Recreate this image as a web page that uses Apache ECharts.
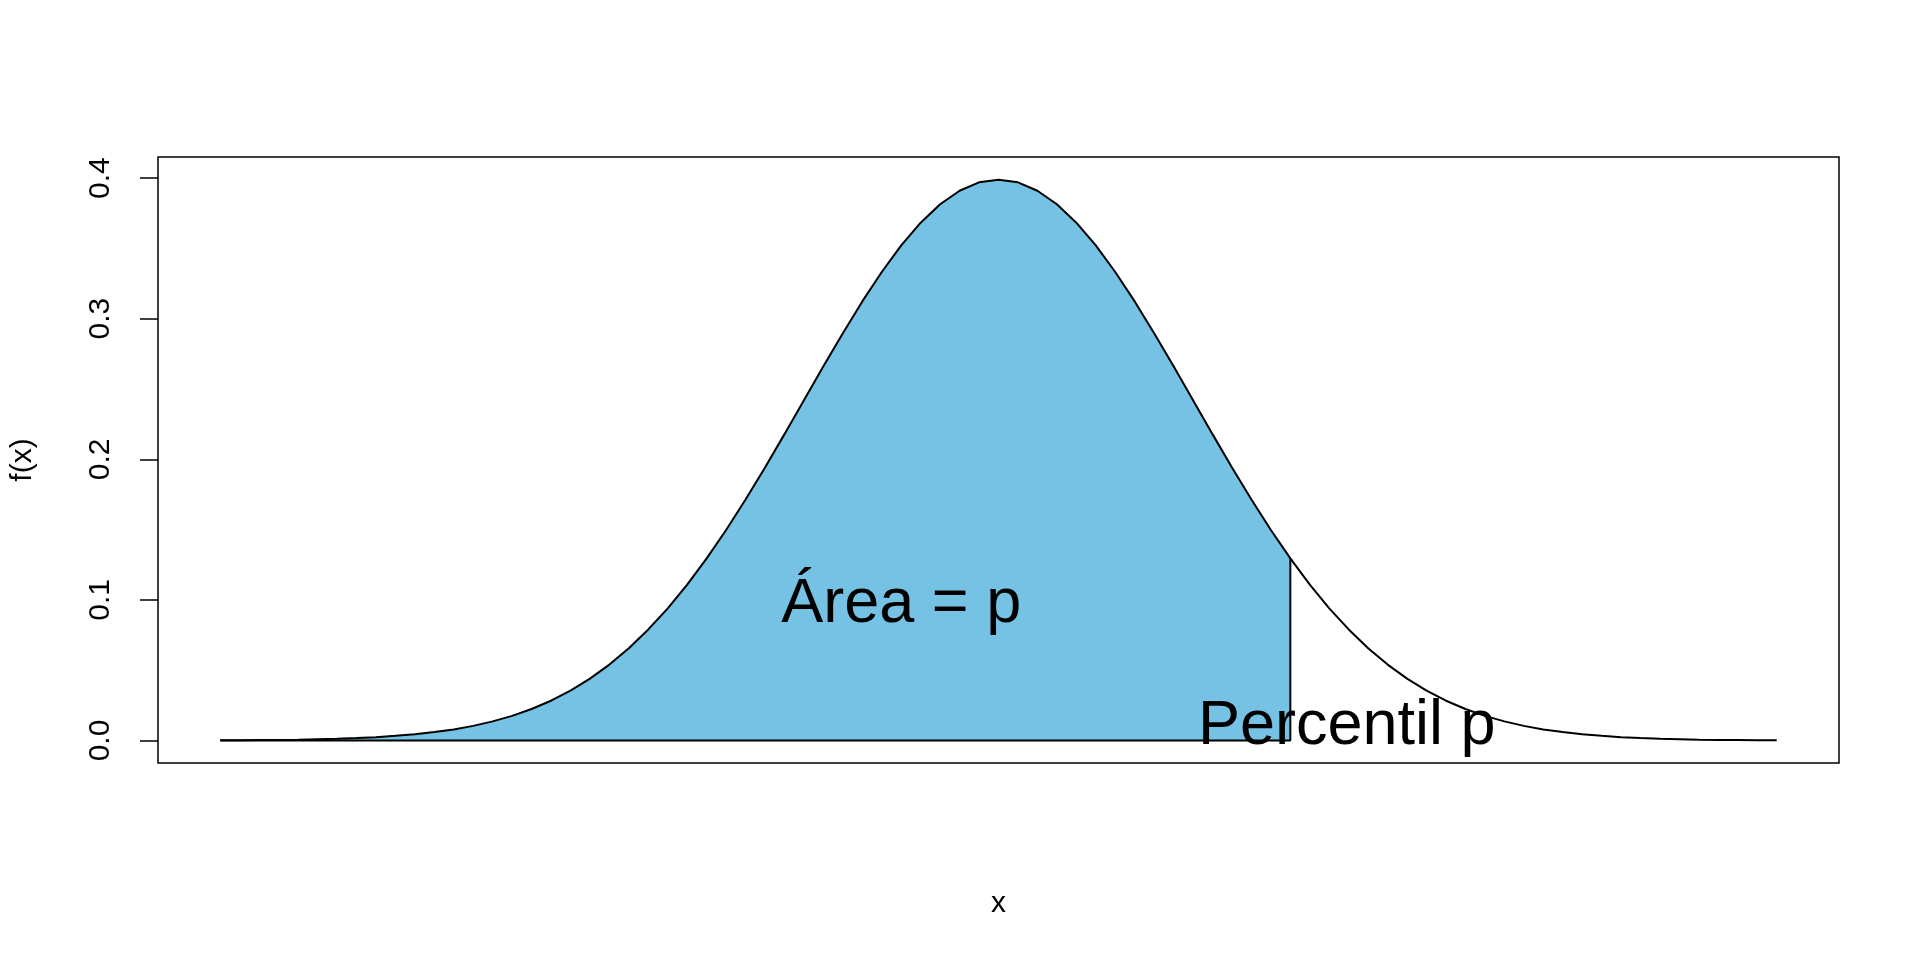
<!DOCTYPE html>
<html>
<head>
<meta charset="utf-8">
<title>Percentil p</title>
<script src="https://cdn.jsdelivr.net/npm/echarts@6/dist/echarts.min.js"></script>
<style>
  html, body { margin: 0; padding: 0; background: #fff; }
  #chart { width: 1920px; height: 960px; }
</style>
</head>
<body>
<div id="chart"></div>
<script>
  // x grid of the density curve
  var xs = [
    -4.0, -3.9, -3.8, -3.7, -3.6, -3.5, -3.4, -3.3, -3.2, -3.1,
    -3.0, -2.9, -2.8, -2.7, -2.6, -2.5, -2.4, -2.3, -2.2, -2.1,
    -2.0, -1.9, -1.8, -1.7, -1.6, -1.5, -1.4, -1.3, -1.2, -1.1,
    -1.0, -0.9, -0.8, -0.7, -0.6, -0.5, -0.4, -0.3, -0.2, -0.1,
    0.0, 0.1, 0.2, 0.3, 0.4, 0.5, 0.6, 0.7, 0.8, 0.9,
    1.0, 1.1, 1.2, 1.3, 1.4, 1.5, 1.6, 1.7, 1.8, 1.9,
    2.0, 2.1, 2.2, 2.3, 2.4, 2.5, 2.6, 2.7, 2.8, 2.9,
    3.0, 3.1, 3.2, 3.3, 3.4, 3.5, 3.6, 3.7, 3.8, 3.9, 4.0
  ]
  // f(x) values
  var fx = [
    0.0001, 0.0002, 0.0003, 0.0004, 0.0006, 0.0009, 0.0012, 0.0017, 0.0024, 0.0033,
    0.0044, 0.0060, 0.0079, 0.0104, 0.0136, 0.0175, 0.0224, 0.0283, 0.0355, 0.0440,
    0.0540, 0.0656, 0.0790, 0.0940, 0.1109, 0.1295, 0.1497, 0.1714, 0.1942, 0.2179,
    0.2420, 0.2661, 0.2897, 0.3123, 0.3332, 0.3521, 0.3683, 0.3814, 0.3910, 0.3970,
    0.3989, 0.3970, 0.3910, 0.3814, 0.3683, 0.3521, 0.3332, 0.3123, 0.2897, 0.2661,
    0.2420, 0.2179, 0.1942, 0.1714, 0.1497, 0.1295, 0.1109, 0.0940, 0.0790, 0.0656,
    0.0540, 0.0440, 0.0355, 0.0283, 0.0224, 0.0175, 0.0136, 0.0104, 0.0079, 0.0060,
    0.0044, 0.0033, 0.0024, 0.0017, 0.0012, 0.0009, 0.0006, 0.0004, 0.0003, 0.0002, 0.0001
  ]
  var percentile = 1.5
  var yTicks = [0, 0.1, 0.2, 0.3, 0.4]
  var labelTexts = ['Área = p', 'Percentil p']
  var labelX = [-0.5, 1.79]
  var labelY = [0.0965, 0.010]

  var font = 'Liberation Sans, Arial, Helvetica, sans-serif'

  var curve = xs.map(function (x, i) { return [x, fx[i]] })
  var pIndex = xs.indexOf(percentile)
  var shaded = curve.slice(0, pIndex + 1)
  var outline = [[xs[0], 0], [percentile, 0], [percentile, fx[pIndex]]]
  var labels = labelTexts.map(function (t, i) { return { value: [labelX[i], labelY[i]], name: t } })

  var chart = echarts.init(document.getElementById('chart'))
  chart.setOption({
    animation: false,
    backgroundColor: '#fff',
    grid: {
      left: 157, right: 81, top: 157, bottom: 197,
      show: true,
      borderColor: '#000',
      borderWidth: 1.5
    },
    xAxis: {
      type: 'value',
      min: -4.32,
      max: 4.32,
      name: 'x',
      nameLocation: 'middle',
      nameGap: 126,
      nameTextStyle: { fontFamily: font, fontSize: 30, color: '#000' },
      axisLine: { show: false, onZero: false },
      axisTick: { show: false },
      axisLabel: { show: false },
      splitLine: { show: false }
    },
    yAxis: {
      type: 'value',
      min: -0.016,
      max: 0.415,
      name: 'f(x)',
      nameLocation: 'middle',
      nameRotate: 90,
      nameGap: 120,
      nameTextStyle: { fontFamily: font, fontSize: 30, color: '#000' },
      axisLine: { show: false, onZero: false },
      axisTick: {
        show: true,
        length: 18,
        customValues: yTicks,
        lineStyle: { color: '#000', width: 1.5 }
      },
      axisLabel: {
        show: true,
        customValues: yTicks,
        rotate: 90,
        margin: 42,
        fontFamily: font,
        fontSize: 30,
        color: '#000',
        formatter: function (v) { return v.toFixed(1) }
      },
      splitLine: { show: false }
    },
    series: [
      {
        // shaded area up to the percentile
        type: 'line',
        data: shaded,
        symbol: 'none',
        lineStyle: { width: 0 },
        areaStyle: { color: '#76C2E4', opacity: 1 },
        z: 1
      },
      {
        // polygon border: baseline and vertical line at the percentile
        type: 'line',
        data: outline,
        symbol: 'none',
        lineStyle: { color: '#000', width: 2 },
        z: 2
      },
      {
        // density curve
        type: 'line',
        data: curve,
        symbol: 'none',
        lineStyle: { color: '#000', width: 2 },
        z: 3
      },
      {
        type: 'scatter',
        data: labels,
        symbolSize: 0,
        z: 5,
        itemStyle: { opacity: 1 },
        label: {
          show: true,
          position: 'inside',
          formatter: '{b}',
          fontFamily: font,
          fontSize: 63,
          color: '#000',
          opacity: 1
        }
      }
    ]
  })
</script>
</body>
</html>
